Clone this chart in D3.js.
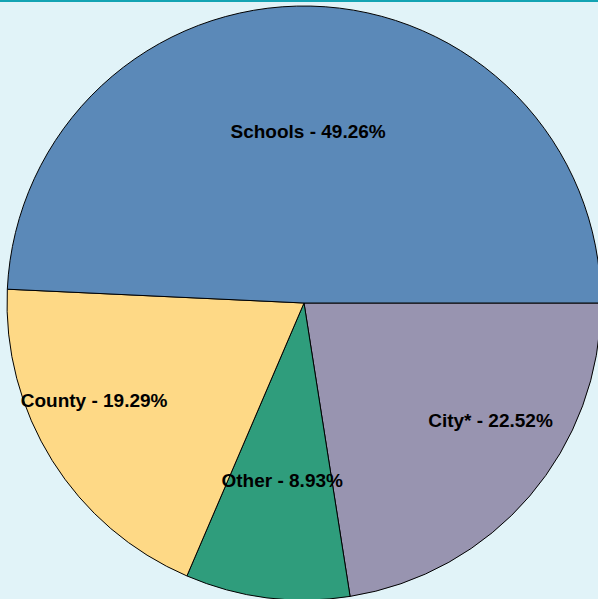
<!DOCTYPE html>
<html>
<head>
<meta charset="utf-8">
<script src="https://cdn.jsdelivr.net/npm/d3@7"></script>
<style>
  html, body { margin: 0; padding: 0; background: #e1f3f8; }
  svg { display: block; }
</style>
</head>
<body>
<svg id="chart" width="598" height="599"></svg>
<script>
// Data (clockwise order starting from 3 o'clock)
const categories = ["City*", "Other", "County", "Schools"];
const values = [22.52, 8.93, 19.29, 49.26];
const colors = ["#9894b0", "#2f9d7c", "#fed986", "#5b89b8"];

const W = 598, H = 599;
const cx = 304, cy = 303, r = 297;

const svg = d3.select("#chart");
svg.append("rect").attr("width", W).attr("height", H).attr("fill", "#e1f3f8");
svg.append("rect").attr("x", 0).attr("y", 0).attr("width", W).attr("height", 2).attr("fill", "#13a3b3");

const data = categories.map((c, i) => ({ name: c, value: values[i], color: colors[i] }));

const pie = d3.pie().value(d => d.value).sort(null)
  .startAngle(Math.PI / 2).endAngle(Math.PI / 2 + 2 * Math.PI);
const arcs = pie(data);

const arc = d3.arc().innerRadius(0).outerRadius(r);
const labelArc = d3.arc().innerRadius(0).outerRadius(r * 1.18);

const g = svg.append("g").attr("transform", `translate(${cx},${cy})`);

g.selectAll("path").data(arcs).enter().append("path")
  .attr("d", arc)
  .attr("fill", d => d.data.color)
  .attr("stroke", "#000")
  .attr("stroke-width", 1);

g.selectAll("text").data(arcs).enter().append("text")
  .each(function(d) {
    const [x, y] = labelArc.centroid(d);
    const L = Math.hypot(x, y);
    let anchor = "middle", dx = 0;
    if (Math.abs(x) > 0.3 * L) {
      anchor = x > 0 ? "start" : "end";
      dx = x > 0 ? -9 : 12;
    }
    d3.select(this)
      .attr("x", x + dx)
      .attr("y", y + 4)
      .attr("text-anchor", anchor);
  })
  .attr("dominant-baseline", "central")
  .attr("font-family", "Liberation Sans, Arial, sans-serif")
  .attr("font-weight", "bold")
  .attr("font-size", 19)
  .attr("fill", "#000")
  .text(d => `${d.data.name} - ${d.data.value.toFixed(2)}%`);
</script>
</body>
</html>
